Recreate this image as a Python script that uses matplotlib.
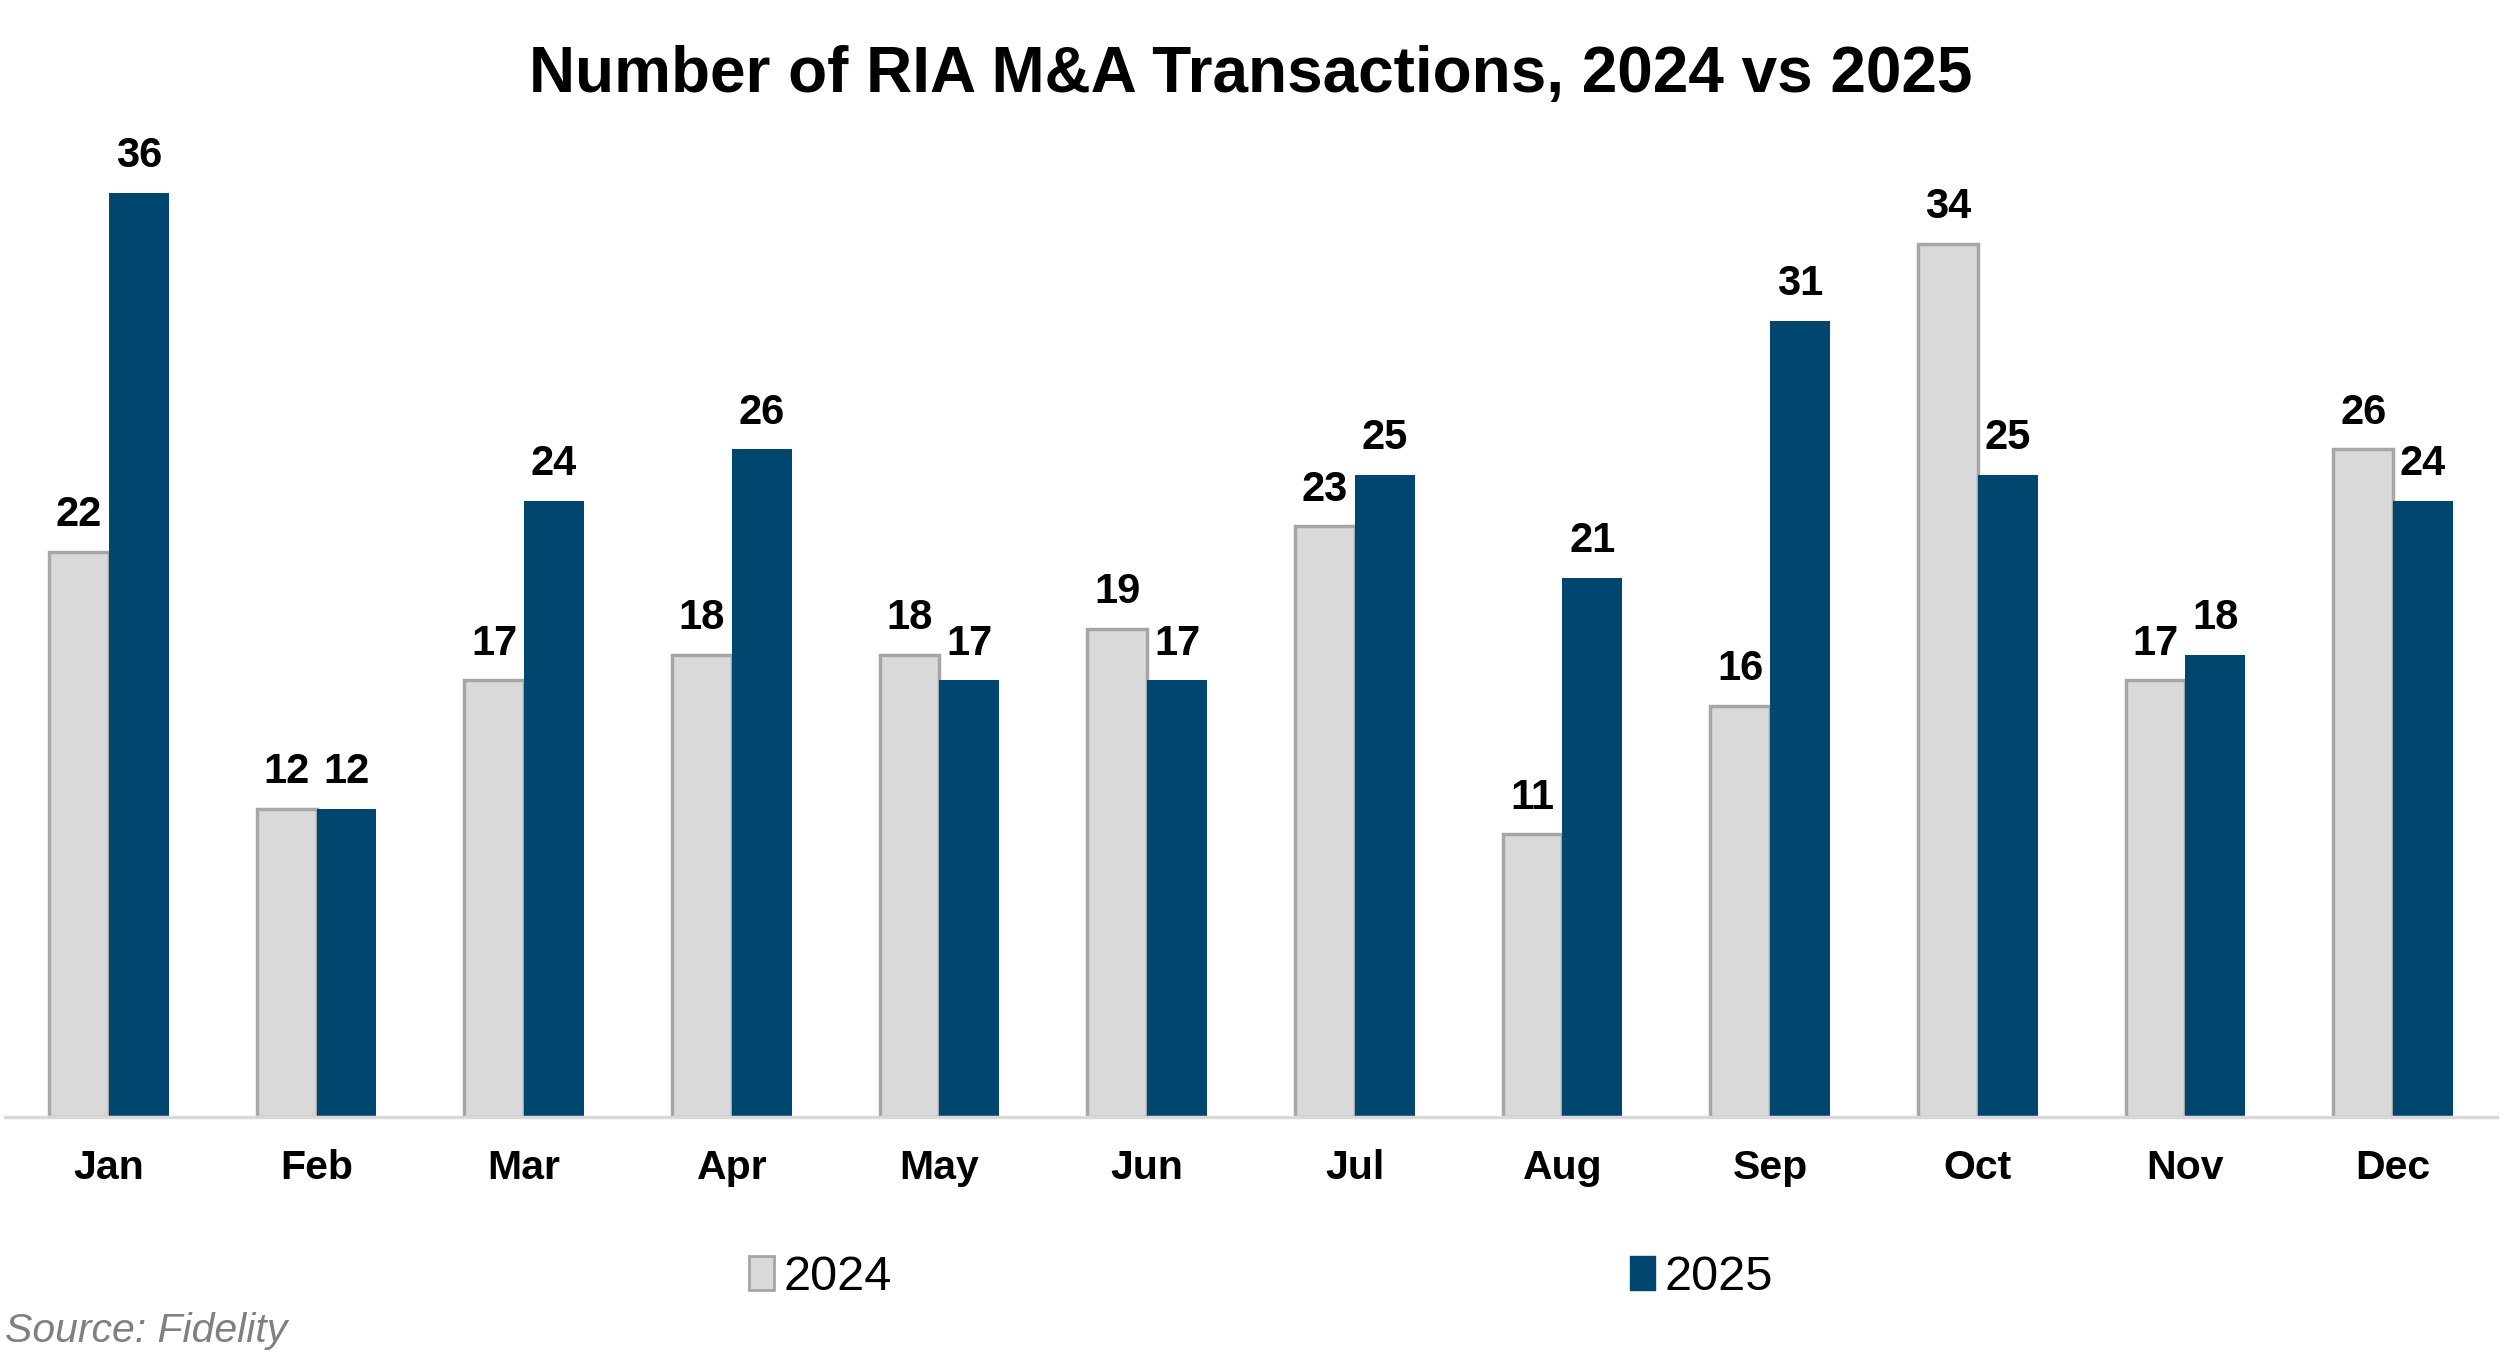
import matplotlib.pyplot as plt
import numpy as np
from matplotlib.patches import Patch

plt.rcParams['font.family'] = ['Liberation Sans', 'DejaVu Sans']

months = ["Jan", "Feb", "Mar", "Apr", "May", "Jun",
          "Jul", "Aug", "Sep", "Oct", "Nov", "Dec"]
deals_2024 = [22, 12, 17, 18, 18, 19, 23, 11, 16, 34, 17, 26]
deals_2025 = [36, 12, 24, 26, 17, 17, 25, 21, 31, 25, 18, 24]

c24 = "#D9D9D9"
c24_edge = "#A6A6A6"
c25 = "#00466E"

fig = plt.figure(figsize=(25.07, 13.65), dpi=100)
ax = fig.add_axes([0.002, 0.182, 0.994, 0.752])

x = np.arange(len(months))
w = 0.288

b1 = ax.bar(x - w / 2, deals_2024, width=w, color=c24,
            edgecolor=c24_edge, linewidth=2.5, label="2024")
b2 = ax.bar(x + w / 2, deals_2025, width=w, color=c25,
            edgecolor=c25, linewidth=0, label="2025")

for bars in (b1, b2):
    for b in bars:
        ax.annotate(f"{int(b.get_height())}",
                    (b.get_x() + b.get_width() / 2, b.get_height()),
                    xytext=(0, 12), textcoords="offset points",
                    ha="center", va="bottom",
                    fontsize=30, fontweight="bold")

ax.set_xlim(-0.5, 11.5)
ax.set_ylim(0, 40)
ax.set_xticks(x)
ax.set_xticklabels(months, fontsize=29.5, fontweight="bold")
ax.tick_params(axis="x", length=0, pad=23)
ax.set_yticks([])
for s in ("top", "right", "left"):
    ax.spines[s].set_visible(False)
ax.spines["bottom"].set_color("#D9D9D9")
ax.spines["bottom"].set_linewidth(2.5)

fig.text(0.499, 0.945, "Number of RIA M&A Transactions, 2024 vs 2025",
         ha="center", va="center", fontsize=46, fontweight="bold")

handles = [Patch(facecolor=c24, edgecolor=c24_edge, linewidth=2),
           Patch(facecolor=c25, edgecolor=c25)]
fig.legend(handles, ["2024", "2025"], loc="center", ncol=2,
           bbox_to_anchor=(0.503, 0.064), frameon=False, fontsize=35,
           handlelength=0.5, handleheight=0.7, handletextpad=0.2,
           columnspacing=15.2)

fig.text(0.002, 0.025, "Source: Fidelity", ha="left", va="center",
         fontsize=29.5, style="italic", color="#808080")

fig.savefig("out.png", dpi=100)
